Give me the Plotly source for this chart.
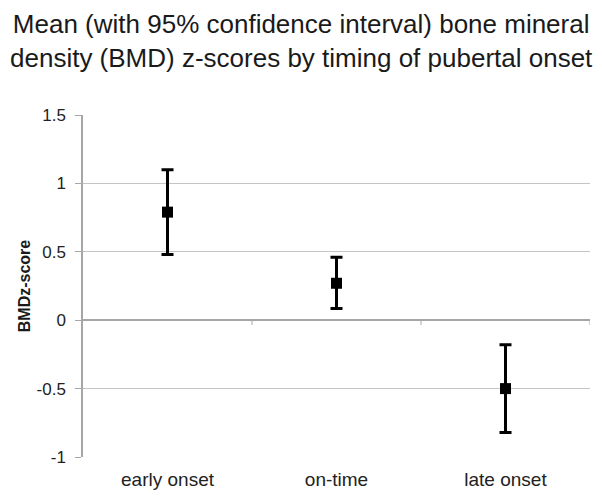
import plotly.graph_objects as go

categories = ["early onset", "on-time", "late onset"]
means = [0.79, 0.27, -0.50]
upper = [1.10, 0.46, -0.18]
lower = [0.48, 0.085, -0.82]

err_plus = [u - m for u, m in zip(upper, means)]
err_minus = [m - l for m, l in zip(means, lower)]

fig = go.Figure()
fig.add_trace(go.Scatter(
    x=categories, y=means, mode="markers",
    marker=dict(symbol="square", size=11, color="black"),
    error_y=dict(type="data", symmetric=False, array=err_plus, arrayminus=err_minus,
                 color="black", thickness=3, width=6),
    showlegend=False,
))

# category boundary tick marks on the zero line
for b in [0.5, 1.5, 2.5]:
    fig.add_shape(type="line", xref="x", yref="y", x0=b, x1=b, y0=0, y1=-0.035,
                  line=dict(color="#a6a6a6", width=1))

fig.add_annotation(
    text="Mean (with 95% confidence interval) bone mineral<br>density (BMD) z-scores by timing of pubertal onset",
    xref="paper", yref="paper", x=0.43, y=1.315, xanchor="center", yanchor="top",
    showarrow=False, align="center",
    font=dict(size=26, color="#1a1a1a", family="Liberation Sans, Arial, sans-serif"),
)

fig.update_layout(
    width=602, height=497,
    margin=dict(l=83, r=12, t=115, b=40, autoexpand=False),
    paper_bgcolor="white", plot_bgcolor="white",
    font=dict(family="Liberation Sans, Arial, sans-serif", color="#222222"),
    xaxis=dict(
        range=[-0.5, 2.5], showgrid=False, showline=False, zeroline=False,
        ticks="", tickfont=dict(size=19, color="#222222"), automargin=False,
        ticklabelstandoff=9,
    ),
    yaxis=dict(
        range=[-1, 1.5], tickvals=[-1, -0.5, 0, 0.5, 1, 1.5],
        ticktext=["-1", "-0.5", "0", "0.5", "1", "1.5"],
        showgrid=True, gridcolor="#c4c4c4", gridwidth=1,
        zeroline=True, zerolinecolor="#a6a6a6", zerolinewidth=1.5,
        showline=True, linecolor="#a6a6a6", linewidth=1.5,
        ticks="outside", ticklen=6, tickcolor="#a6a6a6",
        tickfont=dict(size=17, color="#222222"), automargin=False,
        ticklabelstandoff=6,
        title=dict(text="<b>BMDz-score</b>", font=dict(size=16, color="#1a1a1a"), standoff=2),
    ),
)

fig.write_html("out.html", config={"displayModeBar": False},
               post_script="document.body.style.margin='0';")
